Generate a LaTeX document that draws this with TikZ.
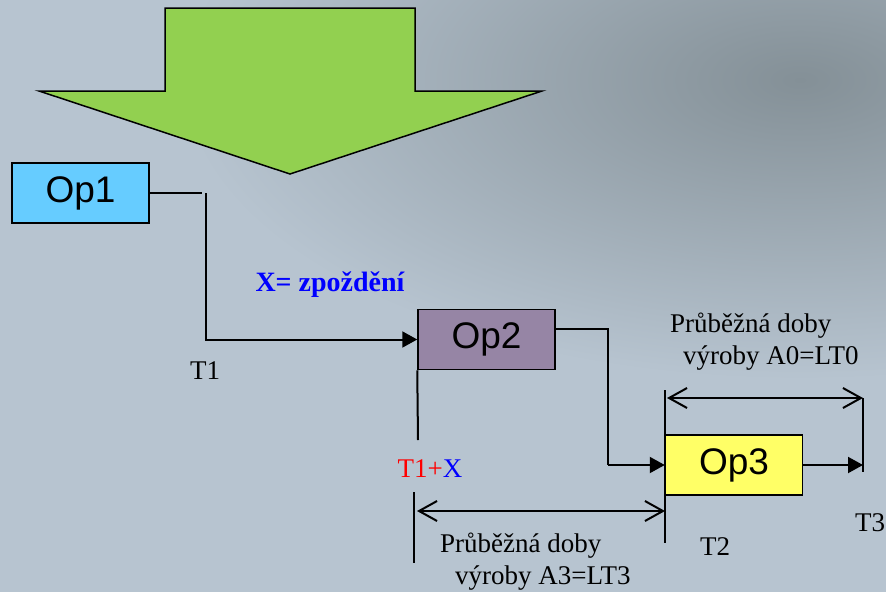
\documentclass[tikz,border=0pt]{standalone}
\usepackage{fontspec}
\setmainfont{Liberation Serif}
\newfontfamily\opfont{Liberation Sans}
\usepackage{xcolor}
\usetikzlibrary{arrows.meta}

\definecolor{bgcol}{RGB}{183,196,208}
\definecolor{bgdark}{RGB}{132,144,151}
\definecolor{greenarr}{RGB}{146,208,80}
\definecolor{opblue}{RGB}{102,204,255}
\definecolor{oppurple}{RGB}{150,133,165}
\definecolor{opyellow}{RGB}{255,255,102}

\begin{document}
\begin{tikzpicture}[x=1pt,y=-1pt,
		opbox/.style={draw, line width=1.5pt, minimum width=137pt, minimum height=60pt, inner sep=0pt, font=\opfont\fontsize{37}{40}\selectfont},
		conn/.style={line width=2pt},
		flow/.style={conn, -{Triangle[length=15pt,width=16pt]}},
		span/.style={conn, {Straight Barb[length=18pt,width=20pt]}-{Straight Barb[length=18pt,width=20pt]}},
		lbl/.style={font=\fontsize{27}{32}\selectfont, inner sep=0pt}]
				% background
				\useasboundingbox (0,0) rectangle (886,592);
				\fill[bgcol] (0,0) rectangle (886,592);
				\begin{scope}
					\clip (0,0) rectangle (886,592);
					\shade[inner color=bgdark, outer color=bgcol] (800,80) ellipse [x radius=620, y radius=300];
				\end{scope}
				
				% big green arrow
				\filldraw[fill=greenarr, draw=black, line width=1.5pt] (165,8) -- (415,8) -- (415,91) -- (542,91) -- (290,174) -- (39,91) -- (165,91) -- cycle;
				
				% operations
				\node[opbox, fill=opblue] (op1) at (80.5,193) {Op1};
				\node[opbox, fill=oppurple] (op2) at (486.5,339.5) {Op2};
				
				\coordinate (k1) at (202,193);
				\coordinate (k2) at (206,193);
				\coordinate (b1) at (608,329);
				\coordinate (t1) at (418,440);
				\coordinate (t2a) at (414,492);
				\coordinate (t2b) at (414,563);
				\coordinate (t3a) at (665,390);
				\coordinate (t3b) at (665,543);
				\coordinate (t4a) at (863,398);
				\coordinate (t4b) at (863,472);
				
				\draw[conn] (t3a) -- (t3b);
				\node[opbox, fill=opyellow] (op3) at (734,465) {Op3};
				
				\draw[conn] (op1.east) -- (k1);
				\draw[flow] (k2) -- (k2 |- op2.west) -- (op2.west);
				\draw[conn] (op2.east |- b1) -- (b1) -- (b1 |- op3.west);
				\draw[flow] (b1 |- op3.west) -- (op3.west);
				\draw[flow] (op3.east) -- (t4a |- op3.east);
				
				\draw[conn] (op2.south west) -- (t1);
				\draw[conn] (t2a) -- (t2b);
				\draw[conn] (t4a) -- (t4b);
				
				\draw[span] (667,398) -- (t4a);
				\draw[span] (417,511) -- (665,511);
				
				% labels
				\node[lbl, font=\bfseries\fontsize{28}{32}\selectfont, text=blue] (delay) at (330,285) {X= zpoždění};
				\node[lbl] (lt1) at (205,371) {T1};
				\node[lbl] (lt1x) at (430,469) {\textcolor{red}{T1+}\textcolor{blue}{X}};
				\node[lbl] (lt2) at (715,547) {T2};
				\node[lbl] (lt3) at (870,523) {T3};
				\node[lbl, align=left, anchor=north west] (lead0) at (670,313) {Průběžná doby\\\hspace{13pt}výroby A0=LT0};
				\node[lbl, align=left, anchor=north west] (lead3) at (440,533) {Průběžná doby\\\hspace{15pt}výroby A3=LT3};
			\end{tikzpicture}
\end{document}
